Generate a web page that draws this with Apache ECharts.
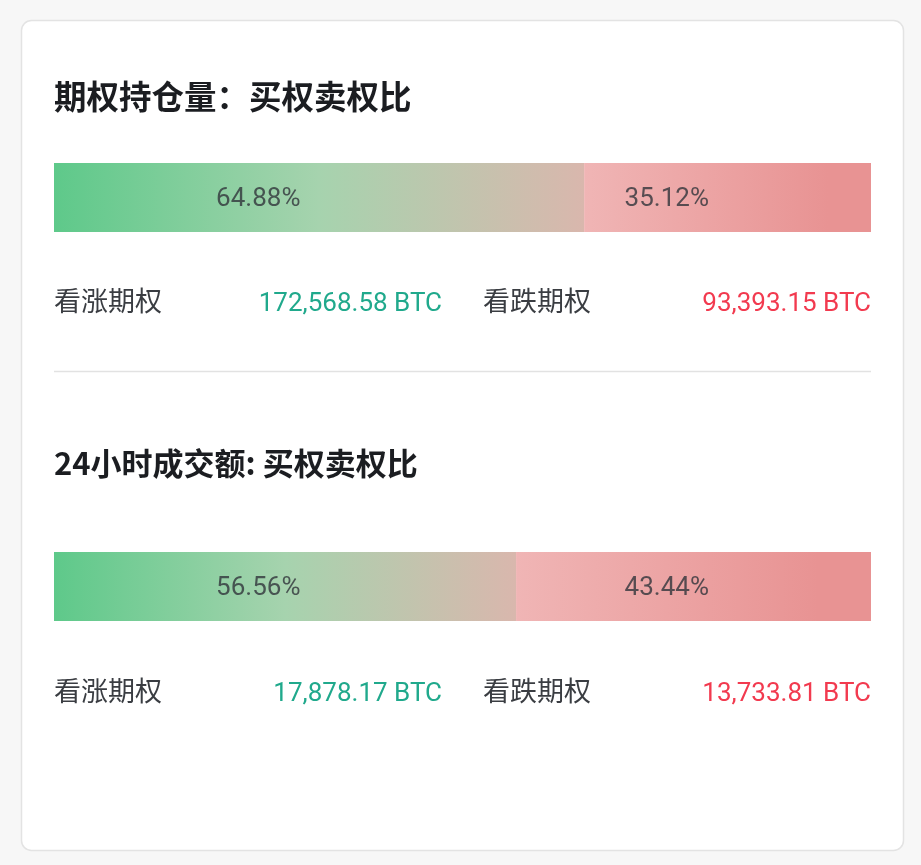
<!DOCTYPE html>
<html>
<head>
<meta charset="utf-8">
<script src="https://cdn.jsdelivr.net/npm/echarts@6/dist/echarts.min.js"></script>
<style>
    html, body { margin: 0; padding: 0; background: #f7f7f7; }
    #main { width: 921px; height: 865px; }
</style>
</head>
<body>
<div id="main"></div>
<script>
// 两块数据：期权持仓量 / 24小时成交额
var titles = ['期权持仓量：买权卖权比', '24小时成交额: 买权卖权比'];
var callName = '看涨期权';
var putName = '看跌期权';
var callBtc = [172568.58, 17878.17];
var putBtc = [93393.15, 13733.81];

var CN = '"Noto Sans CJK SC", sans-serif';
var NUM = 'Roboto, "Noto Sans", sans-serif';

function pct(a, b) { return a / (a + b) * 100; }
function fmt(v) {
    return v.toLocaleString('en-US', {minimumFractionDigits: 2, maximumFractionDigits: 2}) + ' BTC';
}

var left = 54, barW = 817;
var barTops = [163, 552];
var titleY = [97, 463];
var rowY = [301, 691];

var greenGrad = new echarts.graphic.LinearGradient(0, 0, 1, 0, [
    {offset: 0, color: '#5ec98a'},
    {offset: 0.5, color: '#a6d3ae'},
    {offset: 1, color: '#d9b7ad'}
]);
var redGrad = new echarts.graphic.LinearGradient(0, 0, 1, 0, [
    {offset: 0, color: '#f0b5b5'},
    {offset: 0.85, color: '#e89393'},
    {offset: 1, color: '#e89393'}
]);

var grids = [], xAxes = [], yAxes = [], series = [], graphics = [];

graphics.push({
    type: 'rect', shape: {x: 21.5, y: 20.5, width: 882, height: 830, r: 10},
    style: {fill: '#fff', stroke: '#e3e3e3', lineWidth: 1.5}, z: -10
});
graphics.push({
    type: 'line', shape: {x1: left, y1: 371.5, x2: left + barW, y2: 371.5},
    style: {stroke: '#e2e2e2', lineWidth: 1.5}
});

for (var i = 0; i < 2; i++) {
    var cp = pct(callBtc[i], putBtc[i]);
    var pp = 100 - cp;
    grids.push({left: left, width: barW, top: barTops[i], height: 69});
    xAxes.push({gridIndex: i, type: 'value', min: 0, max: 100, show: false});
    yAxes.push({gridIndex: i, type: 'category', data: ['r'], show: false});
    series.push({
        type: 'bar', xAxisIndex: i, yAxisIndex: i, stack: 's' + i,
        barWidth: '100%', silent: true,
        itemStyle: {color: greenGrad}, data: [cp]
    });
    series.push({
        type: 'bar', xAxisIndex: i, yAxisIndex: i, stack: 's' + i,
        barWidth: '100%', silent: true,
        itemStyle: {color: redGrad}, data: [pp]
    });
    // 百分比文字，固定在左右两半的中间
    series.push({
        type: 'scatter', xAxisIndex: i, yAxisIndex: i, symbolSize: 0, silent: true,
        data: [[25, 'r', cp], [75, 'r', pp]],
        label: {
            show: true, position: 'inside', offset: [0, 2],
            formatter: function (p) { return p.value[2].toFixed(2) + '%'; },
            fontFamily: NUM, fontSize: 26, color: '#31353b'
        },
        z: 5
    });

    graphics.push({
        type: 'text', x: left, y: titleY[i],
        style: {text: titles[i], font: 'bold ' + (i === 0 ? 32.5 : 31) + 'px ' + CN, fill: '#1b1d21', verticalAlign: 'middle'}
    });
    graphics.push({
        type: 'text', x: left, y: rowY[i],
        style: {text: callName, font: '27px ' + CN, fill: '#3a3d42', verticalAlign: 'middle'}
    });
    graphics.push({
        type: 'text', x: 442, y: rowY[i] + 3,
        style: {text: fmt(callBtc[i]), font: '26px ' + NUM, fill: '#20a98c', align: 'right', verticalAlign: 'middle'}
    });
    graphics.push({
        type: 'text', x: 483, y: rowY[i],
        style: {text: putName, font: '27px ' + CN, fill: '#3a3d42', verticalAlign: 'middle'}
    });
    graphics.push({
        type: 'text', x: left + barW, y: rowY[i] + 3,
        style: {text: fmt(putBtc[i]), font: '26px ' + NUM, fill: '#f23a4f', align: 'right', verticalAlign: 'middle'}
    });
}

var myChart = echarts.init(document.getElementById('main'));
myChart.setOption({
    backgroundColor: '#f7f7f7',
    animation: false,
    grid: grids,
    xAxis: xAxes,
    yAxis: yAxes,
    series: series,
    graphic: graphics
});
</script>
</body>
</html>
